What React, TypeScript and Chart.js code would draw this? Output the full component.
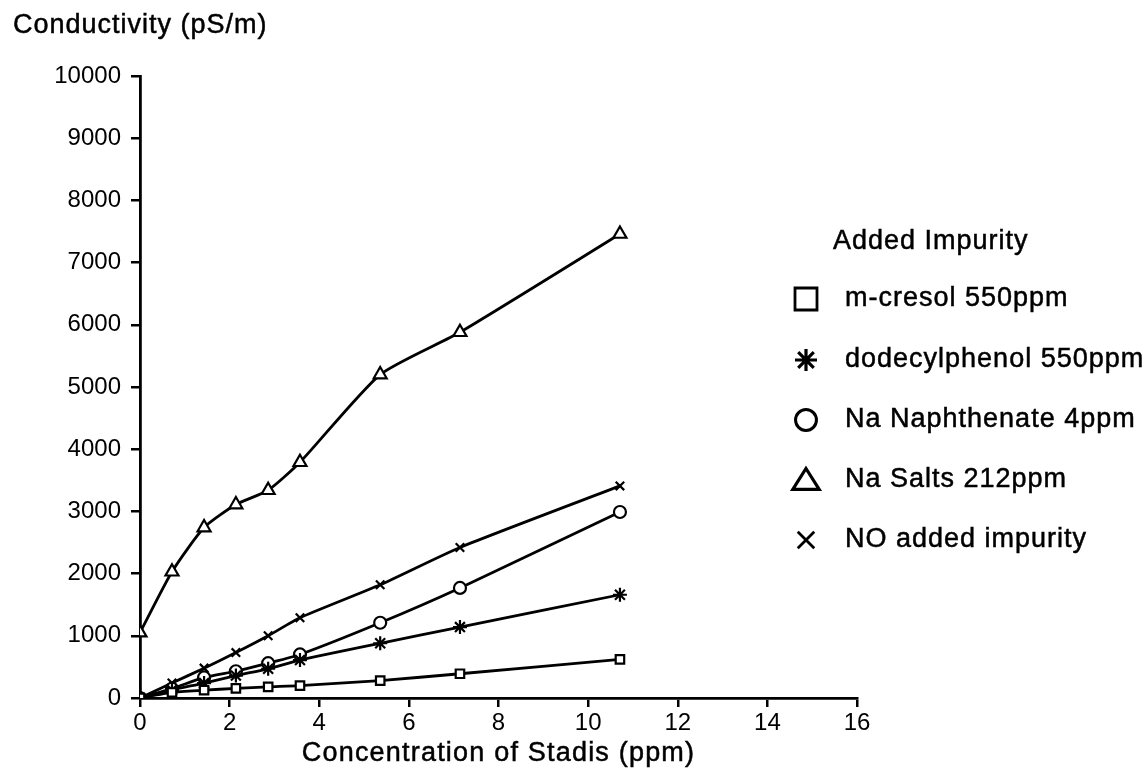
import React, { useEffect, useRef } from "react";
import { Chart, registerables } from "chart.js";

Chart.register(...registerables);

const X_VALUES = [0, 0.714, 1.43, 2.14, 2.86, 3.57, 5.36, 7.14, 10.71];
const M_CRESOL = [0, 90, 125, 155, 180, 200, 280, 390, 620];
const DODECYLPHENOL = [0, 130, 240, 360, 470, 610, 880, 1140, 1660];
const NA_NAPHTHENATE = [0, 150, 330, 430, 560, 700, 1210, 1770, 2990];
const NA_SALTS = [1050, 2030, 2740, 3110, 3340, 3790, 5200, 5880, 7460];
const NO_IMPURITY = [0, 240, 480, 730, 1000, 1290, 1820, 2420, 3410];

const SERIES_LABELS = [
  "m-cresol 550ppm",
  "dodecylphenol 550ppm",
  "Na Naphthenate 4ppm",
  "Na Salts 212ppm",
  "NO added impurity",
];
const POINT_STYLES = ["rect", "star", "circle", "triangle", "crossRot"];
const LEGEND_TITLE = "Added Impurity";
const X_TITLE = "Concentration of Stadis (ppm)";
const Y_TITLE = "Conductivity (pS/m)";
const FONT = "'Liberation Sans', Arial, sans-serif";

function drawMarker(ctx: CanvasRenderingContext2D, style: string, x: number, y: number, r: number) {
  ctx.save();
  ctx.strokeStyle = "#000";
  ctx.fillStyle = "#fff";
  ctx.lineWidth = 2.8;
  ctx.beginPath();
  if (style === "rect") {
    ctx.rect(x - r, y - r, 2 * r, 2 * r);
    ctx.fill();
    ctx.stroke();
  } else if (style === "circle") {
    ctx.arc(x, y, r * 0.95, 0, Math.PI * 2);
    ctx.fill();
    ctx.lineWidth = 3;
    ctx.stroke();
  } else if (style === "triangle") {
    const h = r * 1.9;
    ctx.moveTo(x, y - h * 0.55);
    ctx.lineTo(x + r * 1.2, y + h * 0.45);
    ctx.lineTo(x - r * 1.2, y + h * 0.45);
    ctx.closePath();
    ctx.fill();
    ctx.lineWidth = 3.2;
    ctx.stroke();
  } else if (style === "star") {
    ctx.lineWidth = 3.2;
    for (let i = 0; i < 4; i++) {
      const a = (i * Math.PI) / 4;
      ctx.moveTo(x - r * Math.cos(a), y - r * Math.sin(a));
      ctx.lineTo(x + r * Math.cos(a), y + r * Math.sin(a));
    }
    ctx.stroke();
  } else if (style === "crossRot") {
    const d = r * 0.75;
    ctx.lineWidth = 2.8;
    ctx.moveTo(x - d, y - d);
    ctx.lineTo(x + d, y + d);
    ctx.moveTo(x + d, y - d);
    ctx.lineTo(x - d, y + d);
    ctx.stroke();
  }
  ctx.restore();
}

function heavyText(ctx: CanvasRenderingContext2D, text: string, x: number, y: number) {
  ctx.fillText(text, x, y);
  ctx.strokeText(text, x, y);
}

const textPlugin = {
  id: "textPlugin",
  afterDraw(chart: any) {
    const ctx: CanvasRenderingContext2D = chart.ctx;
    const area = chart.chartArea;
    ctx.save();
    ctx.fillStyle = "#000";
    ctx.strokeStyle = "#000";
    ctx.lineWidth = 0.5;
    (ctx as any).letterSpacing = "1px";
    ctx.font = `27px ${FONT}`;
    ctx.textBaseline = "alphabetic";
    ctx.textAlign = "left";
    heavyText(ctx, Y_TITLE, 13, 33);
    (ctx as any).letterSpacing = "1.2px";
    ctx.textAlign = "center";
    heavyText(ctx, X_TITLE, (area.left + area.right) / 2, 761);
    (ctx as any).letterSpacing = "1px";
    ctx.textAlign = "left";
    heavyText(ctx, LEGEND_TITLE, 833, 249);
    const rows = [299, 360, 420, 480, 540];
    SERIES_LABELS.forEach((label, i) => {
      const y = rows[i];
      drawMarker(ctx, POINT_STYLES[i], 806, y, 11);
      ctx.fillStyle = "#000";
      ctx.textBaseline = "middle";
      heavyText(ctx, label, 845, y);
    });
    ctx.restore();
  },
};

export default function App() {
  const ref = useRef<HTMLCanvasElement | null>(null);
  useEffect(() => {
    document.body.style.margin = "0";
    document.body.style.overflow = "hidden";
    const canvas = ref.current!;
    const seriesValues = [M_CRESOL, DODECYLPHENOL, NA_NAPHTHENATE, NA_SALTS, NO_IMPURITY];
    const datasets = seriesValues.map((vals, i) => ({
      label: SERIES_LABELS[i],
      data: X_VALUES.map((x, j) => ({ x, y: vals[j] })),
      borderColor: "#000",
      borderWidth: 2.8,
      pointStyle: POINT_STYLES[i],
      pointRadius: i === 3 ? 7.5 : i === 1 ? 7 : 6,
      pointBorderWidth: 2.2,
      pointBorderColor: "#000",
      pointBackgroundColor: "#fff",
      tension: 0.2,
      fill: false,
    }));
    const chart = new Chart(canvas, {
      type: "line",
      data: { datasets: datasets as any },
      plugins: [textPlugin],
      options: {
        animation: false,
        responsive: false,
        events: [],
        layout: { padding: { left: 0, top: 76, right: 291, bottom: 0 } },
        plugins: { legend: { display: false }, tooltip: { enabled: false } },
        scales: {
          x: {
            type: "linear",
            min: 0,
            max: 16,
            afterFit: (s: any) => {
              s.height = 79;
            },
            ticks: {
              stepSize: 2,
              color: "#000",
              padding: 2,
              font: { family: FONT, size: 24 },
              maxRotation: 0,
              callback: (v: any) => String(v),
            },
            grid: { drawOnChartArea: false, drawTicks: true, tickLength: 9, color: "#000", lineWidth: 2.5 },
            border: { display: true, color: "#000", width: 2.8 },
          },
          y: {
            type: "linear",
            min: 0,
            max: 10000,
            afterFit: (s: any) => {
              s.width = 140;
            },
            ticks: {
              stepSize: 1000,
              color: "#000",
              padding: 10,
              font: { family: FONT, size: 24 },
              callback: (v: any) => String(v),
            },
            grid: { drawOnChartArea: false, drawTicks: true, tickLength: 9, color: "#000", lineWidth: 2.5 },
            border: { display: true, color: "#000", width: 2.8 },
          },
        },
      },
    });
    return () => chart.destroy();
  }, []);
  return (
    <div style={{ width: 1148, height: 777 }}>
      <canvas ref={ref} width={1148} height={777} />
    </div>
  );
}
